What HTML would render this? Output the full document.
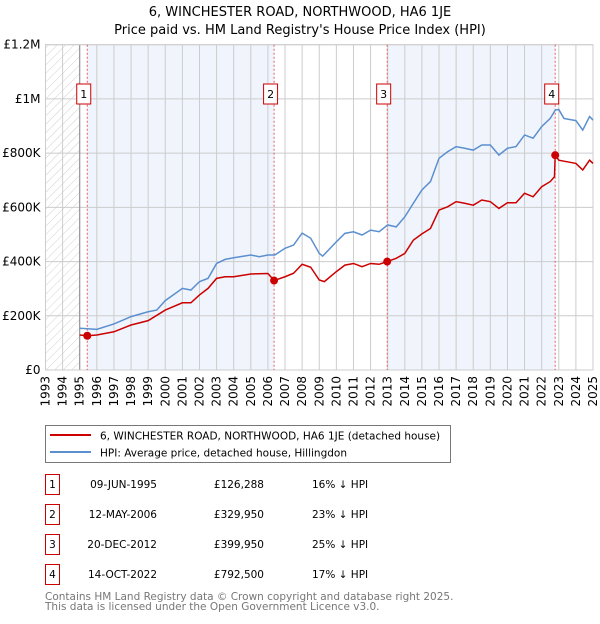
<!DOCTYPE html>
<html><head><meta charset="utf-8">
<style>
body{margin:0;background:#fff;font-family:"DejaVu Sans","Liberation Sans",sans-serif;}
svg text{font-family:"DejaVu Sans","Liberation Sans",sans-serif;}
</style></head>
<body>
<svg id="chart" width="600" height="620" xmlns="http://www.w3.org/2000/svg">
<defs>
<pattern id="hatch" patternUnits="userSpaceOnUse" width="6" height="6" patternTransform="rotate(45)">
<line x1="0" y1="0" x2="0" y2="6" stroke="#bbb" stroke-width="0.7"/>
</pattern>
</defs>
<text x="300" y="16" text-anchor="middle" font-size="13" fill="#000">6, WINCHESTER ROAD, NORTHWOOD, HA6 1JE</text>
<text x="300" y="34" text-anchor="middle" font-size="13" fill="#000">Price paid vs. HM Land Registry's House Price Index (HPI)</text>
<g id="plot"></g>
<g>
<rect x="45.5" y="425.5" width="405" height="37" fill="#fff" stroke="#777" stroke-width="1"/>
<line x1="50" y1="435" x2="91" y2="435" stroke="#cc0000" stroke-width="2"/>
<text x="100" y="439.5" font-size="10.5">6, WINCHESTER ROAD, NORTHWOOD, HA6 1JE (detached house)</text>
<line x1="50" y1="452" x2="91" y2="452" stroke="#5b8fd0" stroke-width="2"/>
<text x="100" y="456.5" font-size="10.5">HPI: Average price, detached house, Hillingdon</text>
</g>
<g id="table" font-size="10.5"></g>
<text x="45" y="600" font-size="10.5" fill="#777">Contains HM Land Registry data © Crown copyright and database right 2025.</text>
<text x="45" y="610" font-size="10.5" fill="#777">This data is licensed under the Open Government Licence v3.0.</text>
</svg>
<script>
const hpiYears=[1995,1996,1997,1998,1999,1999.5,2000,2001,2001.5,2002,2002.5,2003,2003.5,2004,2005,2005.5,2006,2006.4,2007,2007.5,2008,2008.5,2009,2009.2,2010,2010.5,2011,2011.5,2012,2012.5,2013,2013.5,2014,2014.5,2015,2015.5,2016,2016.5,2017,2017.5,2018,2018.5,2019,2019.5,2020,2020.5,2021,2021.5,2022,2022.5,2022.8,2023,2023.3,2024,2024.4,2024.8,2025];
const hpiValues=[154,150,170,197,215,221,256,301,295,326,338,393,408,414,424,418,424,424,449,461,505,486,430,420,473,504,510,498,516,510,535,528,565,615,664,695,781,805,824,818,811,830,830,793,818,824,867,855,898,928,959,961,928,920,885,935,922];
const redYears=[1995,1995.44,1996,1997,1998,1999,2000,2001,2001.5,2002,2002.5,2003,2003.5,2004,2005,2006,2006.36,2007,2007.5,2008,2008.5,2009,2009.3,2010,2010.5,2011,2011.5,2012,2012.5,2012.97,2013.5,2014,2014.5,2015,2015.5,2016,2016.5,2017,2017.5,2018,2018.5,2019,2019.5,2020,2020.5,2021,2021.5,2022,2022.5,2022.75,2022.79,2023,2023.5,2024,2024.4,2024.8,2025];
const redValues=[129,126.3,129,141,166,182,221,248,248,277,301,338,344,344,354,356,330,344,357,390,379,332,326,363,387,393,381,393,390,400,412,430,479,502,522,590,602,621,615,608,627,621,596,617,617,652,639,676,695,713,792.5,774,768,762,738,774,762];
const saleYears=[1995.44,2006.36,2012.97,2022.79];
const saleValues=[126.288,329.95,399.95,792.5];
const saleLabels=["1","2","3","4"];
const saleDates=["09-JUN-1995","12-MAY-2006","20-DEC-2012","14-OCT-2022"];
const salePrices=["£126,288","£329,950","£399,950","£792,500"];
const saleDiffs=["16% ↓ HPI","23% ↓ HPI","25% ↓ HPI","17% ↓ HPI"];
const yTicks=[0,200,400,600,800,1000,1200];
const yTickLabels=["£0","£200K","£400K","£600K","£800K","£1M","£1.2M"];
const xTicks=[1993,1994,1995,1996,1997,1998,1999,2000,2001,2002,2003,2004,2005,2006,2007,2008,2009,2010,2011,2012,2013,2014,2015,2016,2017,2018,2019,2020,2021,2022,2023,2024,2025];

const NS="http://www.w3.org/2000/svg";
const L=45.5,R=593,T=44.7,B=370;
const X=y=>L+(y-1993)/(2025-1993)*(R-L);
const Y=v=>B-v/1200*(B-T);
const plot=document.getElementById('plot');
function mk(tag,attrs,parent){const e=document.createElementNS(NS,tag);for(const k in attrs)e.setAttribute(k,attrs[k]);(parent||plot).appendChild(e);return e;}

let e;
e=mk('rect',{x:L,y:T,width:R-L,height:B-T,fill:'#fff'});


e=mk('rect',{x:L,y:T,width:X(1995)-L,height:B-T,fill:'url(#hatch)'});


for(const [a,b] of [[saleYears[0],saleYears[1]],[saleYears[2],saleYears[3]]]){
  e=mk('rect',{x:X(a),y:T,width:X(b)-X(a),height:B-T,fill:'#f0f4fc'});
  
  
}
xTicks.forEach(t=>{
  e=mk('line',{x1:X(t),x2:X(t),y1:T,y2:B,stroke:'#ccc','stroke-width':1});
  
  
  e=mk('text',{x:0,y:0,'font-size':12,'text-anchor':'end',transform:`translate(${X(t)+4},${B+6}) rotate(-90)`});
  e.textContent=t;
  
  
});
yTicks.forEach((t,i)=>{
  e=mk('line',{x1:L,x2:R,y1:Y(t),y2:Y(t),stroke:'#ccc','stroke-width':1});
  
  
  e=mk('text',{x:L-5,y:Y(t)+4,'font-size':12,'text-anchor':'end'});
  e.textContent=yTickLabels[i];
  
  
});
e=mk('line',{x1:X(1995),x2:X(1995),y1:T,y2:B,stroke:'#888','stroke-width':1});


e=mk('rect',{x:L,y:T,width:R-L,height:B-T,fill:'none',stroke:'#ccc'});


saleYears.forEach((s,i)=>{
  e=mk('line',{x1:X(s),x2:X(s),y1:T,y2:B,stroke:'#e06060','stroke-width':1,'stroke-dasharray':'2,2'});
  
  
});
e=mk('polyline',{points:hpiYears.map((y,i)=>X(y)+','+Y(hpiValues[i])).join(' '),fill:'none',stroke:'#5b8fd0','stroke-width':1.5});


e=mk('polyline',{points:redYears.map((y,i)=>X(y)+','+Y(redValues[i])).join(' '),fill:'none',stroke:'#cc0000','stroke-width':1.5});


saleYears.forEach((s,i)=>{
  e=mk('circle',{cx:X(s),cy:Y(saleValues[i]),r:4,fill:'#cc0000'});
  
  
  const bx=X(s)-3.5-7;
  e=mk('rect',{x:bx,y:84,width:14,height:20,fill:'#fff',stroke:'#cc0000','stroke-width':1});
  
  
  e=mk('text',{x:bx+7,y:98,'font-size':11,'text-anchor':'middle'});
  e.textContent=saleLabels[i];
  
  
});
const tbl=document.getElementById('table');
saleLabels.forEach((lab,i)=>{
  const cy=483+i*30;
  e=mk('rect',{x:45.5,y:cy-8.5,width:14,height:20,fill:'#fff',stroke:'#cc0000','stroke-width':1},tbl);
  
  
  e=mk('text',{x:52.5,y:cy+5,'text-anchor':'middle'},tbl);e.textContent=lab;
  
  
  e=mk('text',{x:157,y:cy+5,'text-anchor':'end'},tbl);e.textContent=saleDates[i];
  
  
  e=mk('text',{x:264,y:cy+5,'text-anchor':'end'},tbl);e.textContent=salePrices[i];
  
  
  e=mk('text',{x:312,y:cy+5},tbl);e.textContent=saleDiffs[i];
  
  
});
</script>
</body></html>
